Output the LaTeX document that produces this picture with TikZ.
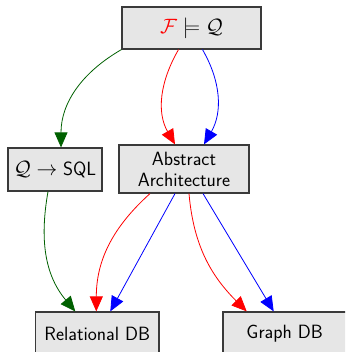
\documentclass[tikz,border=0pt]{standalone}
\usetikzlibrary{arrows.meta}
\definecolor{boxfill}{HTML}{E6E6E6}
\definecolor{boxline}{HTML}{3A3A3A}
\definecolor{darkgreen}{HTML}{006000}
\tikzset{
  box/.style={draw=boxline, fill=boxfill, line width=1.2pt, inner sep=0pt,
    font=\fontsize{19.2}{21}\selectfont\sffamily, align=center},
  link/.style={line width=0.8pt, -{Triangle[length=15pt,width=13pt]}},
}
\begin{document}
\begin{tikzpicture}[x=1pt,y=-1pt]
\useasboundingbox (0,0) rectangle (345,352);
\clip (0,0) rectangle (345,352);

% nodes
\node[box, minimum width=139pt, minimum height=42pt] (goal) at (191.5,28)
  {$\textcolor{red}{\mathcal{F}}\models\mathcal{Q}$};
\node[box, minimum width=94pt, minimum height=43pt] (sql) at (55,169.5)
  {$\mathcal{Q}\rightarrow{}$SQL};
\node[box, minimum width=130pt, minimum height=48pt] (arch) at (184,169)
  {Abstract\\Architecture};
\node[box, minimum width=123.3pt, minimum height=43pt] (rel) at (97.3,333.5)
  {Relational DB};
\node[box, minimum width=123.3pt, minimum height=43pt] (graph) at (284.7,333.5)
  {Graph DB};

% connectors from the goal
\draw[link, darkgreen] (goal.south west) to[out=210,in=90] ([xshift=6pt]sql.north);
\draw[link, red] ([xshift=-13pt]goal.south) to[out=240,in=120] ([xshift=-9pt]arch.north);
\draw[link, blue] ([xshift=11pt]goal.south) to[out=300,in=60] ([xshift=20pt]arch.north);

% connectors to the databases
\draw[link, darkgreen] ([xshift=-7pt]sql.south) to[out=260,in=130] ([xshift=-22pt]rel.north);
\draw[link, red] ([xshift=-34pt]arch.south) to[out=222,in=90] ([xshift=-1pt]rel.north);
\draw[link, blue] ([xshift=-9pt]arch.south) -- ([xshift=13pt]rel.north);
\draw[link, red] ([xshift=5pt]arch.south) to[out=275,in=135] ([xshift=-38pt]graph.north);
\draw[link, blue] ([xshift=19pt]arch.south) -- ([xshift=-11pt]graph.north);
\end{tikzpicture}
\end{document}
